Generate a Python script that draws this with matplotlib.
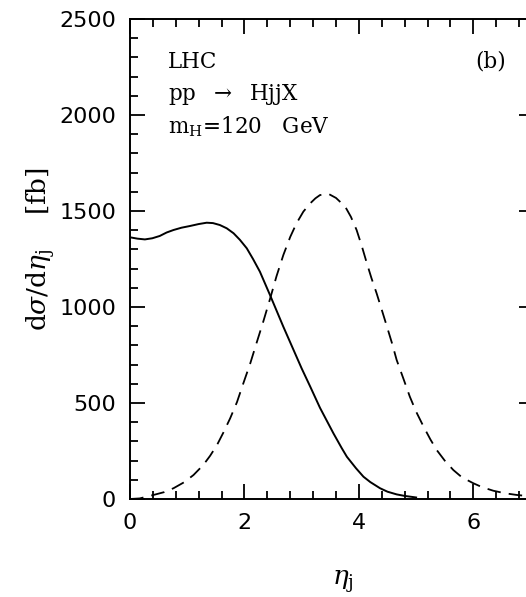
import matplotlib
matplotlib.use('Agg')
import matplotlib.pyplot as plt
from matplotlib.ticker import MultipleLocator

# data
eta_solid = [0.0, 0.13, 0.26, 0.39, 0.52, 0.64, 0.76, 0.9, 1.05, 1.2, 1.34,
             1.45, 1.57, 1.69, 1.81, 1.92, 2.04, 2.15, 2.27, 2.45, 2.68,
             2.91, 3.0, 3.15, 3.32, 3.555, 3.7, 3.79, 3.95, 4.08, 4.2, 4.37,
             4.5, 4.66, 4.8, 5.0]
sig_solid = [1363, 1356, 1352, 1358, 1370, 1388, 1401, 1413, 1422, 1432, 1439,
             1437, 1427, 1410, 1384, 1350, 1306, 1250, 1184, 1060, 897,
             741, 680, 585, 475, 342, 265, 220, 160, 116, 88, 56,
             38, 24, 16, 8]

eta_dash = [0.0, 0.17, 0.41, 0.6, 0.76, 0.95, 1.11, 1.28, 1.4, 1.52, 1.63,
            1.75, 1.87, 1.98, 2.1, 2.21, 2.33, 2.45, 2.56, 2.68, 2.8, 2.91,
            3.03, 3.15, 3.24, 3.32, 3.47, 3.6, 3.76, 3.86, 3.96, 4.05, 4.14,
            4.22, 4.31, 4.4, 4.49, 4.58, 4.66, 4.78, 4.89, 5.0, 5.13, 5.25,
            5.36, 5.5, 5.65, 5.8, 6.0, 6.15, 6.35, 6.55, 6.76, 7.06]
sig_dash = [0, 3, 21, 36, 56, 88, 125, 177, 225, 281, 345,
            420, 505, 602, 705, 811, 925, 1045, 1160, 1271, 1365, 1436,
            1497, 1540, 1566, 1583, 1589, 1568, 1523, 1470, 1401, 1318, 1227,
            1150, 1071, 985, 898, 810, 724, 625, 533, 455, 377, 310,
            255, 200, 151, 113, 82, 62, 43, 30, 21, 12]

plt.rcParams['mathtext.fontset'] = 'dejavuserif'

fig = plt.figure(figsize=(5.26, 5.97), dpi=100)
ax = fig.add_axes([130/526, 98/597, 404/526, 480/597])

ax.plot(eta_solid, sig_solid, color='black', lw=1.4, solid_joinstyle='round')
ax.plot(eta_dash, sig_dash, color='black', lw=1.3, dashes=(7.5, 4.5))

ax.set_xlim(0, 7.06)
ax.set_ylim(0, 2500)
ax.xaxis.set_major_locator(MultipleLocator(2))
ax.xaxis.set_minor_locator(MultipleLocator(0.4))
ax.yaxis.set_major_locator(MultipleLocator(500))
ax.yaxis.set_minor_locator(MultipleLocator(100))
ax.tick_params(which='both', direction='in', top=True, right=True, width=1.3)
ax.tick_params(which='major', length=11, labelsize=16, pad=10)
ax.tick_params(which='minor', length=5.5)
for s in ax.spines.values():
    s.set_linewidth(1.4)
for lab in ax.get_xticklabels() + ax.get_yticklabels():
    lab.set_family('DejaVu Sans')

ax.set_ylabel(r'd$\sigma$/d$\eta_{\rm j}$    [fb]', family='DejaVu Serif', fontsize=19)
ax.yaxis.set_label_coords(-0.18, 0.52)
ax.set_xlabel(r'$\eta_{\rm j}$', fontsize=19)
ax.xaxis.set_label_coords(0.527, -0.145)

tx = dict(transform=ax.transAxes, family='DejaVu Serif', fontsize=15.5, ha='left', va='baseline')
ax.text(0.094, 0.898, 'LHC', **tx)
ax.text(0.094, 0.831, r'pp  $\rightarrow$  HjjX', **tx)
ax.text(0.094, 0.7625, r'm$_{\rm H}$=120   GeV', **tx)
ax.text(0.854, 0.898, '(b)', **tx)

fig.savefig('out.png', dpi=100)
